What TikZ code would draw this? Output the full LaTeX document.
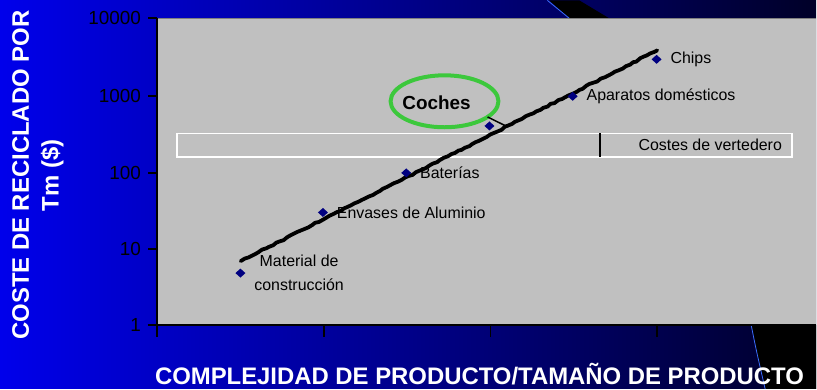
\documentclass[tikz,border=0pt]{standalone}
\usepackage{fontspec}
\setmainfont{Liberation Sans}
\usetikzlibrary{shapes.geometric,positioning,decorations.pathmorphing}
\definecolor{slideblue}{RGB}{0,0,235}
\definecolor{slidenavy}{RGB}{0,0,40}
\definecolor{lightline}{RGB}{60,110,255}
\definecolor{plotgray}{RGB}{192,192,192}
\definecolor{pointblue}{RGB}{0,0,128}
\definecolor{ringgreen}{RGB}{60,200,60}

\begin{document}
\begin{tikzpicture}[x=1bp,y=-1bp,inner sep=0pt,outer sep=0pt,
datapoint/.style={fill=pointblue,diamond,minimum width=10bp,minimum height=9bp},
datalabel/.style={font=\fontsize{16}{24}\selectfont},
ticklabel/.style={font=\fontsize{19}{21}\selectfont},
axistitle/.style={text=white,font=\bfseries\fontsize{24}{30}\selectfont}]

% slide background
\shade[left color=slideblue,right color=slidenavy] (0,0) rectangle (817,389);
\fill[black] (550,0) -- (570,18) -- (610,18) -- (580,0) -- cycle;
\draw[lightline,thick] (548,0) -- (570,18);
\fill[black] (752,325) .. controls (757,350) .. (766,389) -- (817,389) -- (817,325) -- cycle;
\draw[lightline,thick] (752,325) .. controls (757,350) .. (766,389);

% plot area
\fill[plotgray] (157,18) rectangle (817,325);
\draw[gray,thick] (157,18.5) -- (817,18.5);

% landfill band
\draw[white,line width=1.5bp] (177,133) rectangle (793,157);
\draw[line width=2bp] (601,133) -- (601,157);
\draw (711,145) node[datalabel] (landfill) {Costes de vertedero};

% axes
\draw[line width=1.8bp] (157,18) -- (157,337);
\draw[line width=1.8bp] (148,325) -- (817,325);
\draw[line width=1.8bp] (157,18) -- (148,18) node[ticklabel,left=7bp] (t10000) {10000};
\draw[line width=1.8bp] (157,96) -- (148,96) node[ticklabel,left=7bp] (t1000) {1000};
\draw[line width=1.8bp] (157,173) -- (148,173) node[ticklabel,left=7bp] (t100) {100};
\draw[line width=1.8bp] (157,249) -- (148,249) node[ticklabel,left=7bp] (t10) {10};
\draw[line width=1.8bp] (157,325) -- (148,325) node[ticklabel,left=7bp] (t1) {1};
\draw[line width=1.8bp] (324,325) -- (324,337);
\draw[line width=1.8bp] (491,325) -- (491,337);
\draw[line width=1.8bp] (658,325) -- (658,337);

% trend
\coordinate (trendstart) at (241,261);
\coordinate (trendend) at (658,50);
\draw[line width=3.8bp,line cap=round,line join=round,decorate,
  decoration={random steps,segment length=4bp,amplitude=0.7bp}] (trendstart) -- (trendend);

% data
\node[datapoint] (material) at (240.7,273) {};
\node[datapoint] (envases) at (323.3,212.3) {};
\node[datapoint] (baterias) at (406.7,172.7) {};
\node[datapoint] (coches) at (490,125.7) {};
\node[datapoint] (aparatos) at (573.3,96) {};
\node[datapoint] (chips) at (657.3,59) {};

\node[datalabel,align=center,right=9bp of material] (materiallab) {Material de\\construcción};
\node[datalabel,right=9bp of envases] (envaseslab) {Envases de Aluminio};
\node[datalabel,right=9bp of baterias] (bateriaslab) {Baterías};
\node[datalabel,right=9bp of aparatos] (aparatoslab) {Aparatos domésticos};
\node[datalabel,right=9bp of chips] (chipslab) {Chips};

% coches callout
\draw (445,101) node[draw=ringgreen,line width=4bp,ellipse,minimum width=108bp,minimum height=52bp] (cochesring) {};
\draw (437,102) node[font=\bfseries\fontsize{19}{22}\selectfont] (cocheslab) {Coches};
\coordinate (cochestip) at (507,126);
\draw[line width=1.5bp] (cochesring.-20) -- (cochestip);

% axis titles
\draw (38,175) node[axistitle,rotate=90,align=center] (ytitle) {COSTE DE RECICLADO POR\\Tm (\$)};
\draw (480,385) node[axistitle,anchor=base] (xtitle) {COMPLEJIDAD DE PRODUCTO/TAMAÑO DE PRODUCTO};
\end{tikzpicture}
\end{document}
